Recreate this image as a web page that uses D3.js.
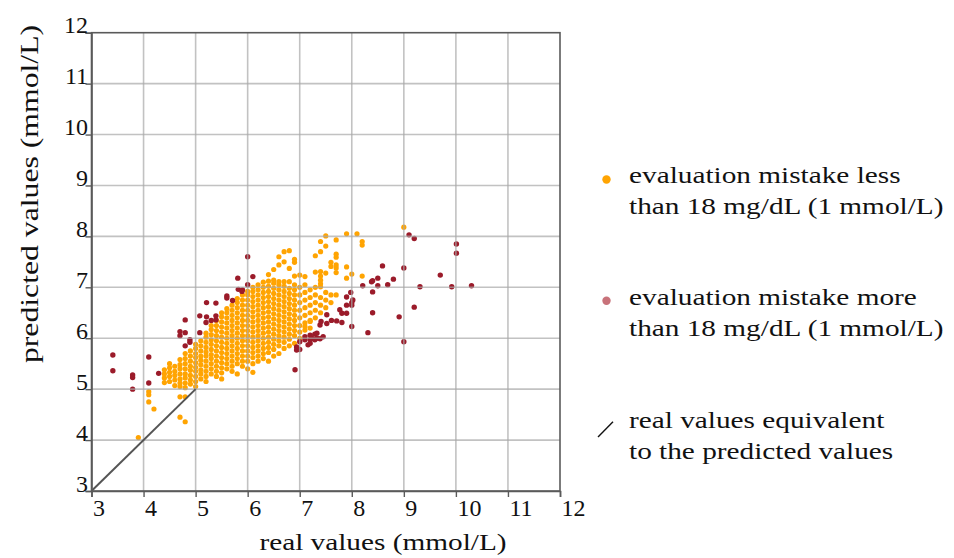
<!DOCTYPE html>
<html><head><meta charset="utf-8">
<script src="https://cdn.jsdelivr.net/npm/d3@7"></script>
<style>body{margin:0;background:#fff} svg{display:block}</style>
</head><body><svg id="c" width="954" height="558"></svg>
<script>
const xTicks = [3,4,5,6,7,8,9,10,11,12];
const yTicks = [3,4,5,6,7,8,9,10,11,12];
const gridVals = [4,5,6,7,8,9,10,11];

// orange points (error < 1 mmol/L), grouped by real value column
const orangeCols = [3.9,4.1,4.2,4.4,4.5,4.6,4.7,4.8,4.9,5.0,5.1,5.2,5.3,5.4,5.5,5.6,5.7,5.8,5.9,6.0,6.1,6.2,6.3,6.4,6.5,6.6,6.7,6.8,6.9,7.0,7.1,7.2,7.3,7.4,7.5,7.6,7.7,7.9,8.0,8.1,8.2,9.0];
const orangeYs = [
 [4.05],
 [4.95,4.89,4.75],
 [4.61],
 [5.13,5.22,5.30,5.38],
 [5.15,5.25,5.33,5.42,5.50],
 [5.07,5.18,5.27,5.35,5.45],
 [4.85,4.45,5.05,5.12,5.20,5.30,5.40,5.48,5.58],
 [4.85,4.36,5.03,5.12,5.22,5.30,5.40,5.50,5.60,5.70],
 [5.10,5.18,5.27,5.37,5.45,5.55,5.65,5.75],
 [5.05,5.15,5.25,5.35,5.43,5.52,5.62,5.70,5.80,5.88],
 [5.20,5.30,5.38,5.48,5.57,5.65,5.75,5.85,5.95],
 [5.15,5.25,5.35,5.45,5.55,5.65,5.73,5.82,5.92,6.02,6.10],
 [5.30,5.40,5.50,5.60,5.68,5.78,5.88,5.97,6.07,6.17,6.25],
 [5.25,5.35,5.45,5.55,5.65,5.75,5.85,5.95,6.05,6.15,6.25,6.35],
 [5.20,5.32,5.42,5.52,5.62,5.72,5.82,5.92,6.02,6.12,6.22,6.32,6.42,6.50],
 [5.40,5.50,5.60,5.70,5.80,5.90,6.00,6.10,6.20,6.30,6.40,6.50,6.58],
 [5.35,5.45,5.55,5.65,5.75,5.85,5.95,6.05,6.15,6.25,6.35,6.45,6.55,6.65],
 [5.30,5.50,5.60,5.70,5.80,5.90,6.00,6.10,6.20,6.30,6.40,6.50,6.60,6.70,6.78],
 [5.45,5.55,5.65,5.75,5.85,5.95,6.05,6.15,6.25,6.35,6.45,6.55,6.65,6.75,6.85],
 [5.40,5.55,5.65,5.75,5.85,5.95,6.05,6.15,6.25,6.35,6.45,6.55,6.65,6.75,6.85,6.92],
 [5.33,5.50,5.62,5.72,5.82,5.92,6.02,6.12,6.22,6.32,6.42,6.52,6.62,6.72,6.82,6.92,7.00],
 [5.55,5.65,5.75,5.85,5.95,6.05,6.15,6.25,6.35,6.45,6.55,6.65,6.75,6.85,6.95,7.05],
 [5.60,5.70,5.80,5.90,6.00,6.10,6.20,6.30,6.40,6.50,6.60,6.70,6.80,6.90,7.00,7.10],
 [5.55,5.72,5.82,5.92,6.02,6.12,6.22,6.32,6.42,6.52,6.62,6.72,6.82,6.92,7.02,7.12,7.25],
 [5.65,5.78,5.88,5.98,6.08,6.18,6.28,6.38,6.48,6.58,6.68,6.78,6.88,6.98,7.08,7.14,7.35],
 [5.70,5.85,5.95,6.05,6.15,6.25,6.35,6.45,6.55,6.65,6.75,6.85,6.95,7.05,7.11,7.44,7.60],
 [5.80,5.92,6.02,6.12,6.22,6.32,6.42,6.52,6.62,6.72,6.82,6.92,7.02,7.11,7.50,7.70],
 [5.85,5.98,6.08,6.18,6.28,6.38,6.48,6.58,6.68,6.78,6.88,6.98,7.11,7.37,7.72],
 [5.90,6.05,6.15,6.25,6.35,6.45,6.55,6.65,6.75,6.85,6.95,7.05,7.22,7.49,7.55],
 [6.00,6.12,6.25,6.40,6.55,6.70,6.85,7.00,7.24],
 [6.16,6.23,6.30,6.45,6.60,6.75,6.90,7.05,7.21],
 [6.33,6.20,6.35,6.50,6.65,6.80,6.95],
 [6.40,6.55,6.70,6.85,7.00,7.30,7.62],
 [6.50,6.65,6.80,7.01,7.07,7.14,7.22,7.31,7.70,7.90],
 [6.60,6.75,6.90,7.28,7.81,8.01],
 [6.70,6.85,7.41,7.49],
 [6.85,7.29,7.38,7.44,7.59,7.65,7.93],
 [7.18,7.40,8.05],
 [7.26],
 [8.05],
 [7.22,7.83,7.90],
 [8.18]
];

// red points (error > 1 mmol/L): [real, predicted]
const redPoints = [
 [3.41,5.67],[3.41,5.36],[3.79,5.28],[3.79,5.23],[3.79,5.00],[4.10,5.63],[4.10,5.12],[4.29,5.31],
 [4.70,6.13],[4.70,6.05],[4.80,6.11],[4.80,6.36],[4.80,5.85],[4.89,5.97],[4.89,5.92],[5.08,6.11],
 [5.08,6.44],[5.20,6.31],[5.21,6.42],[5.21,6.70],[5.30,6.35],[5.39,6.36],[5.39,6.44],[5.39,6.69],
 [5.60,6.83],[5.60,6.79],[5.71,6.74],[5.82,6.96],[5.89,6.92],[5.90,6.95],[5.81,7.18],[6.10,7.21],
 [6.00,7.05],[6.00,7.60],[6.91,5.38],[6.94,5.83],[6.94,5.77],[7.00,5.93],[7.00,5.78],[7.10,6.03],
 [7.10,5.97],[7.16,5.87],[7.20,6.06],[7.20,5.97],[7.20,5.90],[7.23,6.00],[7.29,6.08],[7.29,5.97],
 [7.33,6.10],[7.33,6.00],[7.39,5.99],[7.39,6.26],[7.41,6.33],[7.45,6.03],[7.52,6.29],[7.52,6.46],
 [7.61,6.35],[7.71,6.34],[7.81,6.31],[7.81,6.49],[7.90,6.49],[7.90,6.65],[7.90,6.81],[7.98,6.90],
 [8.00,6.70],[8.00,6.65],[8.00,6.23],[7.77,6.56],[8.02,6.75],
 [8.21,7.03],[8.31,6.11],[8.38,7.11],[8.40,7.13],[8.40,6.91],[8.40,6.50],[8.50,7.18],[8.50,7.03],
 [8.59,7.42],[8.69,7.05],[8.80,7.16],[8.91,6.42],[9.00,7.38],[9.00,5.93],[9.10,8.03],[9.20,7.96],
 [9.20,6.61],[9.31,7.01],[9.70,7.24],[9.92,7.01],[10.01,7.85],[10.01,7.67],[10.30,7.03]
];

const identityLine = [3, 5];
const legendOrange = ["evaluation mistake less", "than 18 mg/dL (1 mmol/L)"];
const legendRed = ["evaluation mistake more", "than 18 mg/dL (1 mmol/L)"];
const legendLine = ["real values equivalent", "to the predicted values"];
const xTitle = "real values (mmol/L)";
const yTitle = "predicted values (mmol/L)";

const FONT = "'Liberation Serif', 'DejaVu Serif', serif";
const STRETCH = 1.22;
const svg = d3.select("#c");
const x = d3.scaleLinear().domain([3,12]).range([91.5,560]);
const y = d3.scaleLinear().domain([3,12]).range([491,32.7]);

// widen a text element horizontally (Palatino-like proportions)
function widen(sel, anchor){
  sel.each(function(){
    const len = this.getComputedTextLength();
    const w = len*STRETCH;
    this.setAttribute("textLength", w);
    this.setAttribute("lengthAdjust","spacingAndGlyphs");
    if(anchor==="middle"){
      const cx = +this.getAttribute("x");
      this.setAttribute("x", cx - w/2);
      this.setAttribute("text-anchor","start");
    }
  });
}

const orangeData = [];
orangeCols.forEach((c,i)=>orangeYs[i].forEach(v=>orangeData.push([c,v])));

// points
svg.append("g").selectAll("circle").data(orangeData).join("circle")
  .attr("cx",d=>x(d[0])).attr("cy",d=>y(d[1])).attr("r",2.6).attr("fill","#ffa402");
svg.append("g").selectAll("circle").data(redPoints).join("circle")
  .attr("cx",d=>x(d[0])).attr("cy",d=>y(d[1])).attr("r",2.7).attr("fill","#9b1b2a");

// grid (drawn over the points)
const grid = svg.append("g").attr("stroke","#a8a8a8").attr("stroke-opacity",0.7).attr("stroke-width",1.6);
grid.selectAll("line.v").data(gridVals).join("line").attr("class","v")
  .attr("x1",d=>x(d)).attr("x2",d=>x(d)).attr("y1",y(12)).attr("y2",y(3));
grid.selectAll("line.h").data(gridVals).join("line").attr("class","h")
  .attr("y1",d=>y(d)).attr("y2",d=>y(d)).attr("x1",x(3)).attr("x2",x(12));

// identity line
svg.append("line").attr("x1",x(identityLine[0])).attr("y1",y(identityLine[0]))
  .attr("x2",x(identityLine[1])).attr("y2",y(identityLine[1]))
  .attr("stroke","#555").attr("stroke-width",2);

// frame
svg.append("rect").attr("x",x(3)).attr("y",y(12)).attr("width",x(12)-x(3)).attr("height",y(3)-y(12))
  .attr("fill","none").attr("stroke","#5a5a5a").attr("stroke-width",1.6);

// axes
const ax = svg.append("g").attr("transform",`translate(0,${y(3)})`)
  .call(d3.axisBottom(x).tickValues(xTicks).tickSize(6).tickFormat(d3.format("d")));
ax.select(".domain").attr("stroke","#5a5a5a").attr("stroke-width",1.6);
ax.selectAll(".tick line").attr("stroke","#5a5a5a").attr("stroke-width",1.4);
ax.selectAll(".tick text").attr("font-family",FONT).attr("font-size",24).attr("fill","#111")
  .attr("text-anchor","start").attr("x",1).attr("y",25).attr("dy",0);

const ay = svg.append("g").attr("transform",`translate(${x(3)},0)`)
  .call(d3.axisLeft(y).tickValues(yTicks).tickSize(6).tickFormat(d3.format("d")));
ay.select(".domain").attr("stroke","#5a5a5a").attr("stroke-width",1.6);
ay.selectAll(".tick line").attr("stroke","#5a5a5a").attr("stroke-width",1.4);
ay.selectAll(".tick text").attr("font-family",FONT).attr("font-size",24).attr("fill","#111")
  .attr("text-anchor","end").attr("x",-3.5).attr("dy",0);

// axis titles
svg.append("text").attr("x",383).attr("y",550)
  .attr("font-family",FONT).attr("font-size",24).attr("fill","#111").text(xTitle)
  .call(widen,"middle");
svg.append("text").attr("transform","translate(38,194) rotate(-90)").attr("x",0).attr("y",0)
  .attr("font-family",FONT).attr("font-size",26).attr("fill","#111").text(yTitle)
  .call(widen,"middle");

// legend
const lg = svg.append("g").attr("font-family",FONT).attr("font-size",24).attr("fill","#111");
function lines(arr, y0){
  arr.forEach((t,i)=>lg.append("text").attr("x",629).attr("y",y0+i*31).text(t).call(widen,"start"));
}
lg.append("circle").attr("cx",606.5).attr("cy",179.5).attr("r",4.2).attr("fill","#ffa402");
lines(legendOrange,183);
lg.append("circle").attr("cx",606.5).attr("cy",300.7).attr("r",4.2).attr("fill","#c8727a");
lines(legendRed,305);
lg.append("line").attr("x1",598).attr("y1",437).attr("x2",613).attr("y2",421.7)
  .attr("stroke","#111").attr("stroke-width",1.4);
lines(legendLine,428);
</script></body></html>
